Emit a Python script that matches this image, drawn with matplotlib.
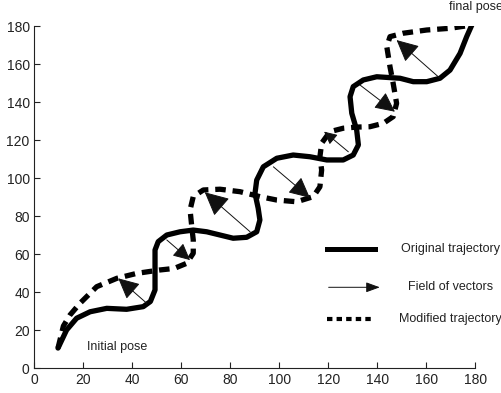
"""
plot.py - Quỹ đạo gốc, trường vector và quỹ đạo đã hiệu chỉnh
"""

import matplotlib
matplotlib.use('Agg')
import matplotlib.pyplot as plt

# ============================================================
# Dữ liệu
# ============================================================

# Quỹ đạo gốc (original trajectory)
orig_x = [9.6, 13.1, 17.2, 22.7, 29.5, 37.6, 44.4, 47.3, 49.2, 49.2, 49.2, 50.5,
          54.0, 59.4, 64.8, 70.3, 75.7, 81.1, 86.6, 90.7, 92.0, 91.3, 90.0, 90.7,
          93.4, 98.9, 105.6, 112.4, 119.3, 126.0, 130.1, 132.2, 131.5, 129.5,
          128.8, 130.1, 134.2, 139.7, 149.2, 154.6, 160.1, 165.5, 169.6, 173.7,
          176.4, 178.5]
orig_y = [10.5, 20.0, 26.2, 29.6, 31.4, 30.9, 32.3, 35.0, 41.1, 51.6, 62.1, 66.5,
          70.0, 71.7, 72.6, 71.7, 70.0, 68.3, 68.8, 71.7, 77.9, 84.1, 91.9, 98.9,
          105.9, 110.4, 112.1, 111.2, 109.5, 109.5, 112.1, 117.4, 125.3, 134.1,
          142.8, 148.1, 151.6, 153.3, 152.5, 150.7, 150.7, 152.5, 156.8, 165.6,
          174.4, 180.5]

# Quỹ đạo đã hiệu chỉnh (modified trajectory)
mod_x = [9.6, 11.8, 14.5, 18.6, 25.4, 33.6, 41.7, 51.2, 57.0, 62.1, 64.8, 64.8,
         64.2, 63.5, 64.8, 68.9, 75.7, 83.9, 92.0, 98.9, 107.0, 113.8, 116.5,
         117.2, 116.5, 117.2, 120.6, 126.0, 131.5, 136.9, 142.4, 146.4, 147.8,
         146.4, 145.1, 143.8, 145.1, 150.5, 160.1, 169.6, 178.5]
mod_y = [10.5, 22.1, 27.9, 34.1, 42.8, 47.2, 49.8, 51.6, 52.4, 55.1, 60.4, 67.4,
         74.4, 83.2, 90.2, 93.7, 94.1, 92.8, 90.2, 88.4, 87.5, 90.2, 95.4, 104.2,
         111.2, 118.3, 124.4, 126.2, 126.8, 127.0, 128.8, 132.3, 139.3, 149.8,
         158.6, 169.1, 174.4, 176.2, 177.9, 178.8, 180.5]

# Trường vector: gốc (trên quỹ đạo gốc) -> ngọn (trên quỹ đạo hiệu chỉnh)
vec_x0 = [45.8, 54.0, 88.0, 97.5, 128.1, 132.9, 165.5]
vec_y0 = [34.1, 67.4, 71.7, 105.9, 113.8, 148.9, 152.5]
vec_x1 = [34.2, 63.5, 69.5, 112.4, 118.2, 147.1, 147.8]
vec_y1 = [47.2, 56.8, 92.5, 89.6, 124.4, 134.9, 172.6]

ticks = list(range(0, 181, 20))

FONT = ['Liberation Sans', 'DejaVu Sans']
plt.rcParams['font.family'] = FONT

# Kích thước đầu mũi tên khác nhau theo từng vector (giống hình gốc)
head_scale = [20, 16, 23, 20, 12, 19, 21]

# ============================================================
# Vẽ
# ============================================================

fig = plt.figure(figsize=(5.02, 3.93), dpi=100)
ax = fig.add_axes([0.0687, 0.0636, 0.8785, 0.8702])

ax.plot(orig_x, orig_y, color='black', linewidth=3.8, solid_capstyle='round',
        solid_joinstyle='round')
ax.plot(mod_x, mod_y, color='black', linewidth=3.8, linestyle=(0, (2.0, 1.3)))

for x0, y0, x1, y1, ms in zip(vec_x0, vec_y0, vec_x1, vec_y1, head_scale):
    ax.annotate('', xy=(x1, y1), xytext=(x0, y0),
                arrowprops=dict(arrowstyle='-|>,head_length=0.65,head_width=0.32',
                                color='#111111', lw=0.7, shrinkA=0, shrinkB=0,
                                mutation_scale=ms))

# Chú giải vẽ tay (giống hình gốc)
ax.plot([0.663, 0.772], [0.348, 0.348], transform=ax.transAxes, color='black',
        linewidth=3.6, clip_on=False)
ax.annotate('', xy=(0.783, 0.236), xytext=(0.667, 0.236), xycoords='axes fraction',
            textcoords='axes fraction',
            arrowprops=dict(arrowstyle='-|>,head_length=0.6,head_width=0.22',
                            color='#111111', lw=0.7, shrinkA=0, shrinkB=0,
                            mutation_scale=14))
ax.plot([0.664, 0.768], [0.142, 0.142], transform=ax.transAxes, color='black',
        linewidth=3.0, linestyle=(0, (1.3, 1.0)), clip_on=False)

legend_labels = ['Original trajectory', 'Field of vectors', 'Modified trajectory']
for label, yy in zip(legend_labels, [0.348, 0.236, 0.142]):
    ax.text(0.944, yy, label, transform=ax.transAxes, ha='center', va='center',
            fontsize=9, color='#222222', clip_on=False)

ax.text(0.118, 0.062, 'Initial pose', transform=ax.transAxes, ha='left',
        va='center', fontsize=9, color='#222222')
ax.text(1.0, 1.056, 'final pose', transform=ax.transAxes, ha='center',
        va='center', fontsize=9, color='#222222', clip_on=False)

ax.set_xlim(0, 180)
ax.set_ylim(0, 180)
ax.set_xticks(ticks)
ax.set_yticks(ticks)
ax.tick_params(direction='in', length=4, width=0.8, labelsize=10,
               colors='#222222')
for side in ['top', 'right']:
    ax.spines[side].set_visible(False)
for side in ['left', 'bottom']:
    ax.spines[side].set_linewidth(0.8)
    ax.spines[side].set_color('#222222')

plt.savefig('out.png', dpi=100)
plt.close()
